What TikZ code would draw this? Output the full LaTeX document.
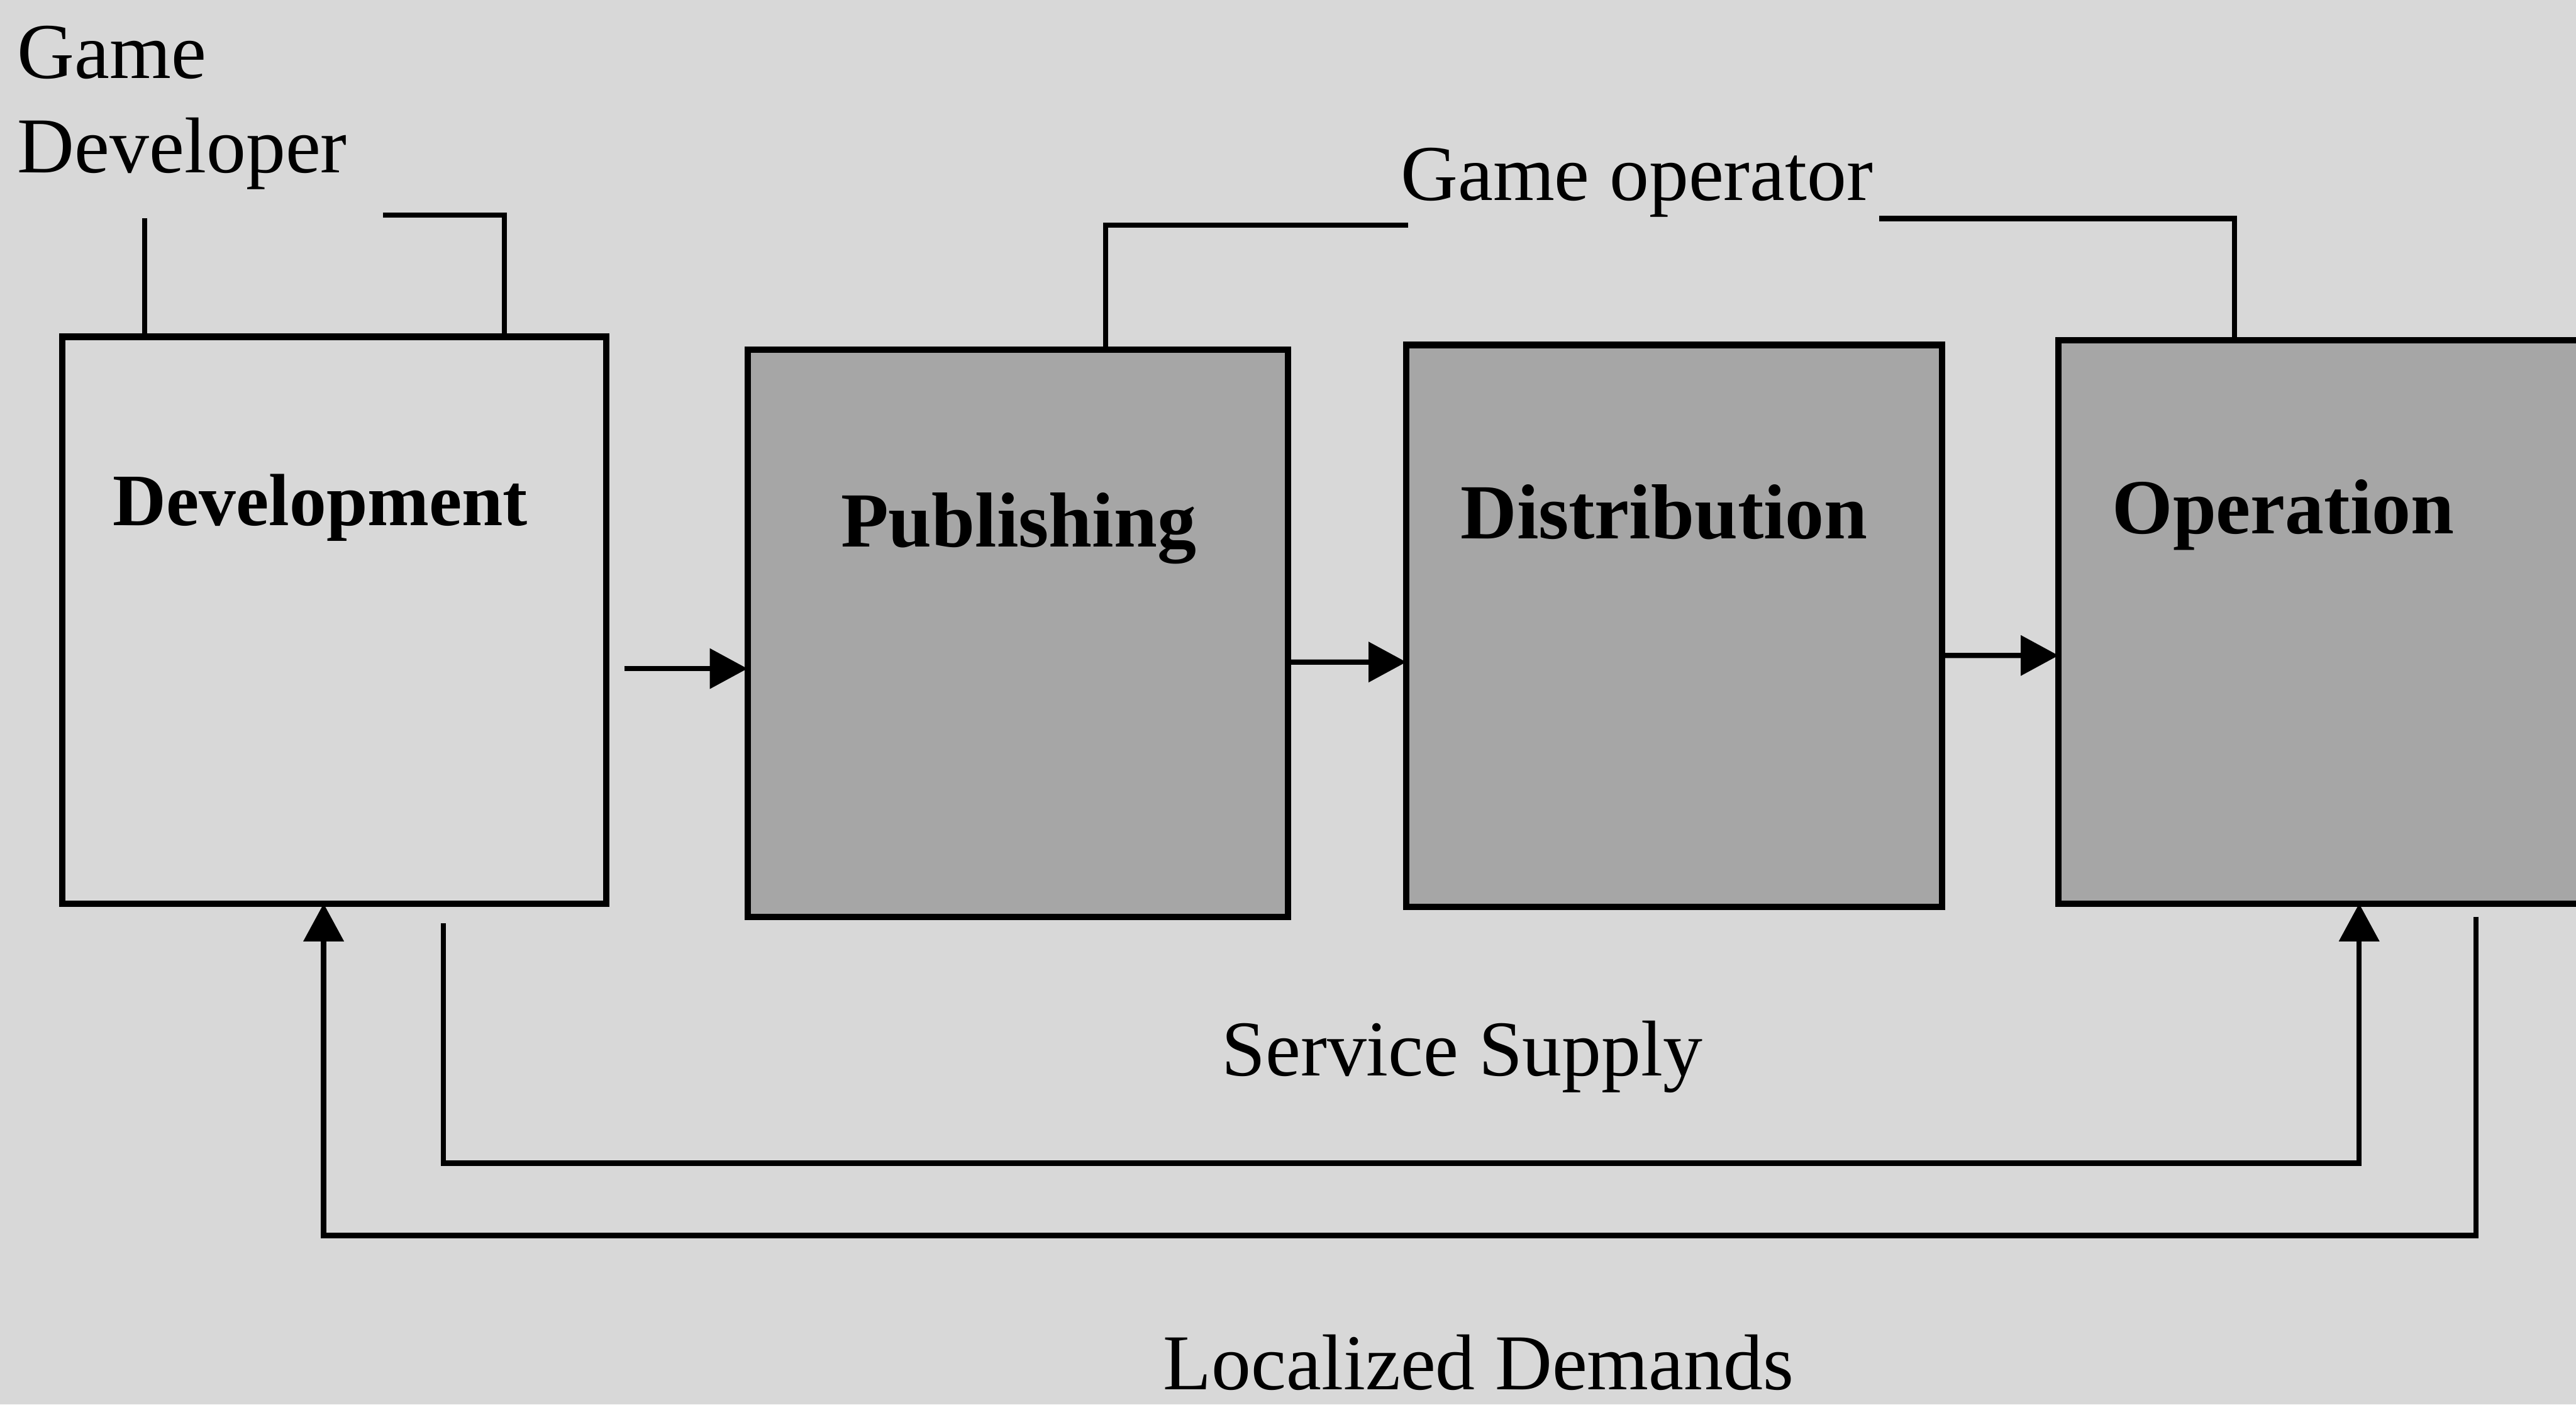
\documentclass[tikz,border=0pt]{standalone}
\usepackage{fontspec}
\setmainfont{Liberation Serif}
\usetikzlibrary{arrows.meta,calc}
\definecolor{paper}{RGB}{216,216,216}
\definecolor{shade}{RGB}{166,166,166}
\begin{document}
\begin{tikzpicture}[x=0.1mm,y=-0.1mm,
  stagebox/.style={draw=black,line width=1.1pt,inner sep=0pt,outer sep=0pt},
  plainbox/.style={stagebox,fill=paper},
  greybox/.style={stagebox,fill=shade},
  stagename/.style={font=\fontsize{13.5}{16}\selectfont\bfseries,inner sep=0pt,anchor=base},
  caption/.style={font=\fontsize{13.7}{16.5}\selectfont,inner sep=0pt},
  link/.style={line width=0.9pt,line join=miter},
  flow/.style={link,-{Triangle[length=2.3mm,width=2.4mm]}}]
\fill[paper] (0,0) rectangle (1568,855);
\useasboundingbox (0,0) rectangle (1568,855);

% stages of the value chain
\node[plainbox,minimum width=33.1mm,minimum height=34.5mm] (dev)  at (203.5,377.5) {};
\node[greybox, minimum width=32.9mm,minimum height=34.5mm] (pub)  at (619.5,385.5) {};
\node[greybox, minimum width=32.6mm,minimum height=34.2mm] (dist) at (1019,381) {};
\node[greybox, minimum width=36mm,  minimum height=34.3mm] (op)   at (1433,378.5) {};

\node[stagename,font=\fontsize{12.8}{15}\selectfont\bfseries] (devname) at (195,320) {Development};
\node[stagename] (pubname)  at (620,333) {Publishing};
\node[stagename] (distname) at (1013,328) {Distribution};
\node[stagename,anchor=base west] (opname) at (1285,325) {Operation};

% actors and flows
\node[caption,anchor=base west] (gd1) at (10,47.5) {Game};
\node[caption,anchor=base west] (gd2) at (10,105) {Developer};
\node[caption,anchor=base west] (gop) at (852,122) {Game operator};
\node[caption,anchor=base] (supply) at (890,655) {Service Supply};
\node[caption,anchor=base] (demand) at (900,846) {Localized Demands};

\coordinate (gopL) at (857,137);
\coordinate (gopR) at (1144,133);

% chain arrows
\draw[flow] ($(dev.east)+(11,29.5)$) -- ($(pub.west)+(0,21.5)$);
\draw[flow] ($(pub.east)+(2,17.5)$) -- ($(dist.west)+(0,22)$);
\draw[flow] ($(dist.east)+(1,18)$) -- ($(op.west)+(0,20.5)$);

% developer bracket
\draw[link] ($(dev.north west)+(50,0)$) -- ++(0,-72);
\draw[link] ($(dev.north west)+(269,0)$) |- ++(-74,-74);

% operator bracket
\draw[link] ($(pub.north)+(53.5,0)$) |- (gopL);
\draw[link] (gopR) -| ($(op.north west)+(107,0)$);

% feedback loops
\draw[flow] ($(dev.south west)+(232,12)$) -- ++(0,146) -| ($(op.south west)+(183,0)$);
\draw[flow] ($(op.south west)+(254,8)$) -- ++(0,194) -| ($(dev.south west)+(159,0)$);
\end{tikzpicture}
\end{document}
